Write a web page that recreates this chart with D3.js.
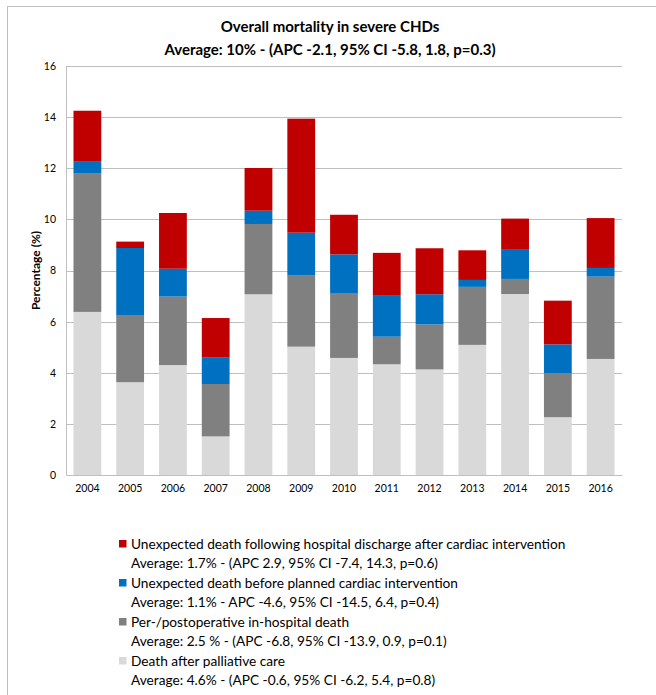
<!DOCTYPE html>
<html>
<head>
<meta charset="utf-8">
<script src="https://cdn.jsdelivr.net/npm/d3@7"></script>
<style>
  html, body { margin: 0; padding: 0; background: #fff; }
  svg { display: block; font-family: Lato, "Open Sans", sans-serif; }
</style>
</head>
<body>
<svg id="chart" width="656" height="695"></svg>
<script>
// Mortality by year, percentage points per cause
const years = ["2004","2005","2006","2007","2008","2009","2010","2011","2012","2013","2014","2015","2016"];
const palliative   = [6.38, 3.63, 4.30, 1.51, 7.07, 5.02, 4.58, 4.33, 4.13, 5.09, 7.08, 2.26, 4.54];
const perioperative = [5.41, 2.63, 2.68, 2.05, 2.75, 2.78, 2.54, 1.08, 1.76, 2.27, 0.59, 1.72, 3.22];
const beforePlanned = [0.49, 2.62, 1.09, 1.03, 0.52, 1.68, 1.51, 1.63, 1.18, 0.27, 1.17, 1.13, 0.34];
const afterDischarge = [1.97, 0.25, 2.18, 1.55, 1.67, 4.46, 1.55, 1.65, 1.80, 1.16, 1.19, 1.71, 1.95];
const yTicks = [0, 2, 4, 6, 8, 10, 12, 14, 16];

const seriesKeys = ["palliative", "perioperative", "beforePlanned", "afterDischarge"];
const seriesColors = {
  palliative: "#d9d9d9",
  perioperative: "#808080",
  beforePlanned: "#0070c0",
  afterDischarge: "#c00000"
};
const legendItems = [
  { key: "afterDischarge", name: "Unexpected death following hospital discharge after cardiac intervention",
    stat: "Average: 1.7% - (APC 2.9, 95% CI -7.4, 14.3, p=0.6)" },
  { key: "beforePlanned", name: "Unexpected death before planned cardiac intervention",
    stat: "Average: 1.1% - APC -4.6, 95% CI -14.5, 6.4, p=0.4)" },
  { key: "perioperative", name: "Per-/postoperative in-hospital death",
    stat: "Average: 2.5 % - (APC -6.8, 95% CI -13.9, 0.9, p=0.1)" },
  { key: "palliative", name: "Death after palliative care",
    stat: "Average: 4.6% - (APC -0.6, 95% CI -6.2, 5.4, p=0.8)" }
];

const rows = years.map((y, i) => ({
  year: y,
  palliative: palliative[i],
  perioperative: perioperative[i],
  beforePlanned: beforePlanned[i],
  afterDischarge: afterDischarge[i]
}));

const svg = d3.select("#chart");
const margin = { left: 66, right: 34, top: 66, bottom: 220 };
const W = 656, H = 695;
const plotW = W - margin.left - margin.right;
const plotH = H - margin.top - margin.bottom;

// frame lines (top and left)
svg.append("line").attr("x1", 7).attr("x2", W).attr("y1", 6.5).attr("y2", 6.5)
  .attr("stroke", "#bfbfbf").attr("stroke-width", 1);
svg.append("line").attr("x1", 7.5).attr("x2", 7.5).attr("y1", 6).attr("y2", H)
  .attr("stroke", "#bfbfbf").attr("stroke-width", 1);

// title
const title = svg.append("text").attr("text-anchor", "middle")
  .attr("font-weight", "bold").attr("font-size", 15).attr("fill", "#000");
title.append("tspan").attr("x", 330).attr("y", 32).text("Overall mortality in severe CHDs");
title.append("tspan").attr("x", 330).attr("y", 55).text("Average: 10% - (APC -2.1, 95% CI -5.8, 1.8, p=0.3)");

const g = svg.append("g").attr("transform", `translate(${margin.left},${margin.top})`);

const x = d3.scaleBand().domain(years).range([0, plotW]).paddingInner(0.35).paddingOuter(0.175);
const y = d3.scaleLinear().domain([0, 16]).range([plotH, 0]);

// gridlines
g.append("g")
  .selectAll("line").data(yTicks.filter(t => t > 0)).join("line")
  .attr("x1", 0).attr("x2", plotW)
  .attr("y1", d => Math.round(y(d)) + 0.5).attr("y2", d => Math.round(y(d)) + 0.5)
  .attr("stroke", "#bfbfbf").attr("stroke-width", 1);

// stacked bars
const stack = d3.stack().keys(seriesKeys);
const layers = stack(rows);
g.append("g").selectAll("g").data(layers).join("g")
  .attr("fill", d => seriesColors[d.key])
  .selectAll("rect").data(d => d).join("rect")
  .attr("x", d => x(d.data.year))
  .attr("width", x.bandwidth())
  .attr("y", d => y(d[1]))
  .attr("height", d => y(d[0]) - y(d[1]));

// y axis
const yAxis = g.append("g")
  .call(d3.axisLeft(y).tickValues(yTicks).tickSize(0).tickPadding(10).tickFormat(d3.format("d")));
yAxis.select(".domain").attr("stroke", "#bfbfbf");
yAxis.selectAll("text").attr("font-size", 10.5).attr("fill", "#000").attr("font-family", "Lato, 'Open Sans', sans-serif");

// x axis
const xAxis = g.append("g").attr("transform", `translate(0,${plotH})`)
  .call(d3.axisBottom(x).tickSize(0).tickPadding(10));
xAxis.select(".domain").attr("stroke", "#bfbfbf");
xAxis.selectAll("text").attr("font-size", 10.5).attr("fill", "#000").attr("font-family", "Lato, 'Open Sans', sans-serif");

// y axis title
svg.append("text")
  .attr("transform", `translate(40,${margin.top + plotH / 2}) rotate(-90)`)
  .attr("text-anchor", "middle").attr("font-weight", "bold").attr("font-size", 12)
  .text("Percentage (%)");

// legend
const legend = svg.append("g").attr("transform", "translate(119,537)");
legendItems.forEach((item, i) => {
  const gy = i * 39;
  legend.append("rect").attr("x", 0).attr("y", gy + 3).attr("width", 7.5).attr("height", 7.5)
    .attr("fill", seriesColors[item.key]);
  legend.append("text").attr("x", 12).attr("y", gy + 12).attr("font-size", 13.7).text(item.name);
  legend.append("text").attr("x", 12).attr("y", gy + 31).attr("font-size", 13.7).text(item.stat);
});
</script>
</body>
</html>
